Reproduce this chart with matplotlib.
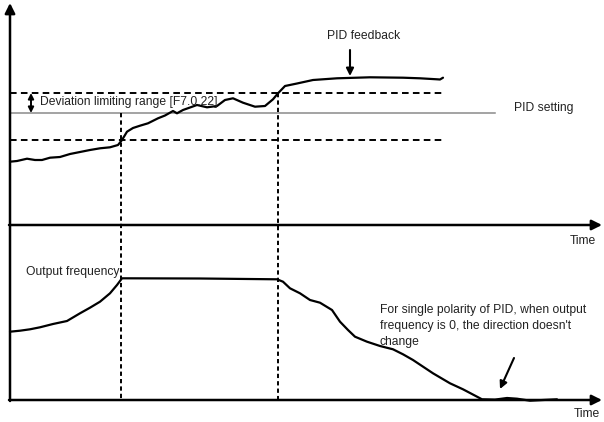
import matplotlib
matplotlib.use("Agg")
import matplotlib.pyplot as plt

plt.rcParams['font.family'] = ['Liberation Sans', 'DejaVu Sans']

# ---- data (diagram coordinates, y grows downward) ----
feedback_x = [10, 17, 27, 35, 42, 50, 60, 70, 80, 90, 100, 110, 118, 122, 127, 133, 140, 148, 158,
              165, 173, 177, 183, 197, 207, 217, 225, 233, 243, 255, 265, 273, 278, 285, 297, 313,
              337, 370, 403, 420, 437, 440, 443]
feedback_y = [161.7, 161, 158.7, 160, 160, 157.7, 157, 154, 152, 150, 148.3, 147.3, 145, 140, 131.7,
              128, 125.7, 123.3, 118.3, 115.5, 111, 113.3, 110, 105, 107.3, 106, 100, 98.3, 102.7,
              106.7, 106, 99.3, 93.3, 86, 83.5, 80, 78.3, 77.3, 77.7, 78.3, 79.3, 79.5, 77.7]

output_x = [10, 20, 30, 40, 53, 67, 80, 90, 100, 110, 117, 122, 200, 277, 283, 290, 300, 310, 320,
            332, 340, 348, 355, 367, 380, 393, 403, 413, 433, 450, 463, 482, 495, 507, 517, 530,
            543, 557]
output_y = [331.7, 330.7, 329.3, 327.3, 324, 321, 313.3, 307.7, 301.7, 293.3, 285, 278.3, 278.5,
            279.3, 281.7, 288.3, 293.3, 300, 302.7, 310, 321.7, 330, 336.7, 341.7, 346, 349.3, 354.3,
            360, 373.3, 383.3, 389.3, 399.3, 399.6, 398, 398.7, 400.7, 400, 399.3]

pid_setting = 113
upper_limit = 93
lower_limit = 140
t_enter = 121
t_exit = 278

W, H = 604, 422
fig = plt.figure(figsize=(W / 100, H / 100), dpi=100)
ax = fig.add_axes([0, 0, 1, 1])
ax.set_xlim(0, W)
ax.set_ylim(H, 0)
ax.axis('off')

fs = 8.7
black = '#000000'
tcol = '#222222'

# axes arrows
arrow_kw = dict(arrowstyle='-|>', lw=1.8, color=black, mutation_scale=15, shrinkA=0, shrinkB=0)
ax.annotate('', xy=(10, 3), xytext=(10, 401), arrowprops=arrow_kw)
ax.annotate('', xy=(602, 225), xytext=(9, 225), arrowprops=arrow_kw)
ax.annotate('', xy=(602, 400), xytext=(9, 400), arrowprops=arrow_kw)

# PID setting line
ax.plot([10, 495], [pid_setting, pid_setting], color='#8a8a8a', lw=1.1)

# deviation limit dashed lines
ax.plot([10, 443], [upper_limit, upper_limit], color=black, lw=1.4, dashes=(3.4, 2.2))
ax.plot([10, 443], [lower_limit, lower_limit], color=black, lw=1.4, dashes=(3.4, 2.2))

# vertical dashed lines
ax.plot([t_enter, t_enter], [pid_setting, 400], color=black, lw=1.4, dashes=(2.2, 1.6))
ax.plot([t_exit, t_exit], [upper_limit, 400], color=black, lw=1.4, dashes=(2.2, 1.6))

# double arrow for deviation range
ax.annotate('', xy=(31, upper_limit), xytext=(31, pid_setting),
            arrowprops=dict(arrowstyle='<|-|>', lw=1.4, color=black, mutation_scale=8,
                            shrinkA=0, shrinkB=0))

# curves
ax.plot(feedback_x, feedback_y, color=black, lw=1.6, solid_capstyle='round')
ax.plot(output_x, output_y, color=black, lw=1.6, solid_capstyle='round')

# annotation arrows
ax.annotate('', xy=(350, 76), xytext=(350, 50),
            arrowprops=dict(arrowstyle='-|>', lw=1.5, color=black, mutation_scale=11,
                            shrinkA=0, shrinkB=0))
ax.annotate('', xy=(500, 389), xytext=(514, 358),
            arrowprops=dict(arrowstyle='-|>', lw=1.5, color=black, mutation_scale=11,
                            shrinkA=0, shrinkB=0))

# texts
ax.text(40, 102, 'Deviation limiting range [F7.0.22]', fontsize=fs, va='center', ha='left',
        color=tcol)
ax.text(364, 36, 'PID feedback', fontsize=fs, va='center', ha='center', color=tcol)
ax.text(514, 108, 'PID setting', fontsize=fs, va='center', ha='left', color=tcol)
ax.text(26, 272, 'Output frequency', fontsize=fs, va='center', ha='left', color=tcol)
ax.text(583, 241, 'Time', fontsize=fs, va='center', ha='center', color=tcol)
ax.text(587, 414, 'Time', fontsize=fs, va='center', ha='center', color=tcol)
ax.text(380, 304, "For single polarity of PID, when output\nfrequency is 0, the direction doesn't\nchange",
        fontsize=fs, va='top', ha='left', color=tcol, linespacing=1.42)

fig.savefig('out.png', dpi=100)
